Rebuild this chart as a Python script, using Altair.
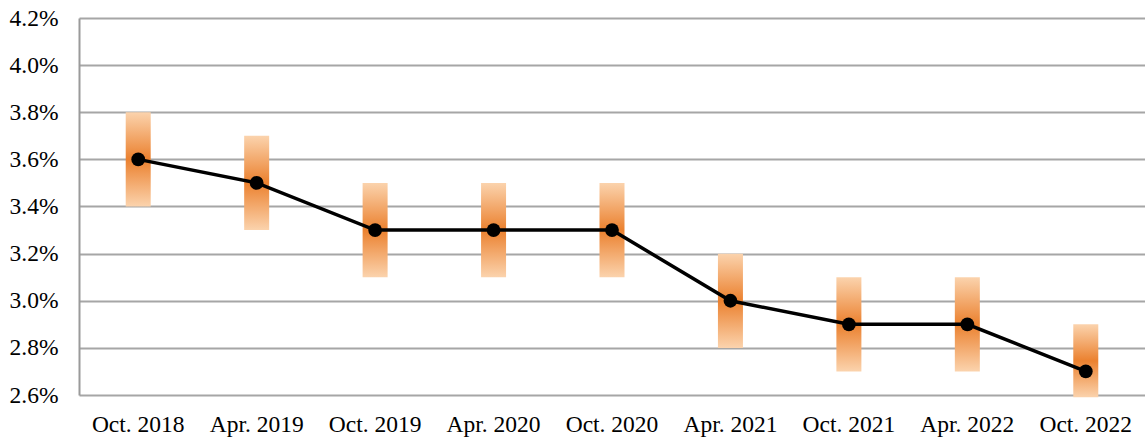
import altair as alt
import pandas as pd

periods = ["Oct. 2018", "Apr. 2019", "Oct. 2019", "Apr. 2020", "Oct. 2020",
           "Apr. 2021", "Oct. 2021", "Apr. 2022", "Oct. 2022"]
central = [3.6, 3.5, 3.3, 3.3, 3.3, 3.0, 2.9, 2.9, 2.7]
low = [3.4, 3.3, 3.1, 3.1, 3.1, 2.8, 2.7, 2.7, 2.59]
high = [3.8, 3.7, 3.5, 3.5, 3.5, 3.2, 3.1, 3.1, 2.9]
y_ticks = [2.6, 2.8, 3.0, 3.2, 3.4, 3.6, 3.8, 4.0, 4.2]

df = pd.DataFrame({
    "period": periods,
    "central": [v / 100 for v in central],
    "low": [v / 100 for v in low],
    "high": [v / 100 for v in high],
})

FONT = "Liberation Serif"
FS = 23.5

x_enc = alt.X("period:N", sort=periods, title=None,
              scale=alt.Scale(paddingInner=0.1),
              axis=alt.Axis(labelAngle=0, labelFont=FONT, labelFontSize=FS,
                            labelColor="black", ticks=False, domain=False,
                            labelPadding=17, grid=False))
y_scale = alt.Scale(domain=[0.026, 0.042], nice=False, zero=False)
y_axis = alt.Axis(values=[v / 100 for v in y_ticks], format=".1%",
                  labelFont=FONT, labelFontSize=FS, labelColor="black",
                  ticks=False, domain=True, domainColor="#9a9a9a", domainWidth=2,
                  grid=True, gridColor="#a6a6a6", gridWidth=2,
                  labelPadding=21, title=None)

grad = alt.Gradient(
    gradient="linear",
    stops=[
        alt.GradientStop(color="#fbd3ad", offset=0),
        alt.GradientStop(color="#eb812f", offset=0.5),
        alt.GradientStop(color="#fbd3ad", offset=1),
    ],
    x1=0, x2=0, y1=0, y2=1,
)

bars = alt.Chart(df).mark_bar(color=grad, size=25).encode(
    x=x_enc,
    y=alt.Y("low:Q", scale=y_scale, axis=y_axis),
    y2="high:Q",
)

line = alt.Chart(df).mark_line(color="black", strokeWidth=3.5).encode(
    x=alt.X("period:N", sort=periods),
    y=alt.Y("central:Q", scale=y_scale),
)

pts = alt.Chart(df).mark_point(filled=True, color="black", size=190, opacity=1).encode(
    x=alt.X("period:N", sort=periods),
    y=alt.Y("central:Q", scale=y_scale),
)

chart = alt.layer(bars, line, pts).properties(
    width=1066, height=377,
    autosize=alt.AutoSizeParams(type="none"),
    padding={"left": 79, "top": 18, "right": 0, "bottom": 43},
    background="white",
).configure_view(stroke=None)

chart.save("out.html", embed_options={"renderer": "svg", "actions": False})
